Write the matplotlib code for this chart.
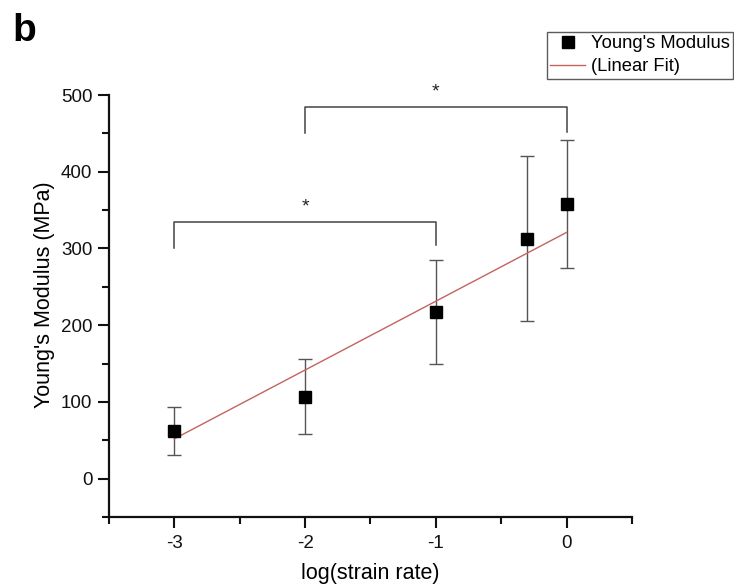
import numpy as np
import matplotlib
matplotlib.use("Agg")
import matplotlib.pyplot as plt
from matplotlib.ticker import MultipleLocator

plt.rcParams['font.family'] = ['Liberation Sans', 'DejaVu Sans']
plt.rcParams['axes.unicode_minus'] = False

# log10 of strain rate and measured modulus (mean, error)
log_rate = np.array([-3.0, -2.0, -1.0, np.log10(0.5), 0.0])
modulus = np.array([62, 107, 217, 313, 358])
modulus_err = np.array([31, 49, 68, 107, 83])

# significance brackets: (x_left, x_right, bar height, left foot, right foot)
brackets = [(-3.0, -1.0, 335, 300, 304),
            (-2.0, 0.0, 485, 450, 452)]

# weighted linear fit (instrumental weights 1/sigma^2)
slope, intercept = np.polyfit(log_rate, modulus, 1, w=1.0 / modulus_err)
fit_x = np.array([log_rate.min(), log_rate.max()])
fit_y = slope * fit_x + intercept

fig = plt.figure(figsize=(7.34, 5.88), dpi=100)
ax = fig.add_axes([0.1485, 0.1207, 0.7125, 0.7177])

ax.errorbar(log_rate, modulus, yerr=modulus_err, fmt='none', ecolor='#555555',
            elinewidth=1.0, capsize=5, capthick=1.0, zorder=2)
sq, = ax.plot(log_rate, modulus, 's', color='black', ms=8.5, zorder=3,
              label="Young's Modulus")
fl, = ax.plot(fit_x, fit_y, '-', color='#c4625f', lw=1.0, zorder=2.5,
              label='(Linear Fit)')

for x0, x1, h, f0, f1 in brackets:
    ax.plot([x0, x0, x1, x1], [f0, h, h, f1], color='#444444', lw=1.1,
            clip_on=False, zorder=1)
    ax.text((x0 + x1) / 2, h + 8, '*', ha='center', va='bottom',
            fontsize=14, color='#222222', clip_on=False)

ax.set_xlim(-3.5, 0.5)
ax.set_ylim(-50, 500)
ax.xaxis.set_minor_locator(MultipleLocator(0.5))
ax.yaxis.set_minor_locator(MultipleLocator(50))
ax.set_yticks([0, 100, 200, 300, 400, 500])
ax.set_xticks([-3, -2, -1, 0])

for s in ('top', 'right'):
    ax.spines[s].set_visible(False)
for s in ('left', 'bottom'):
    ax.spines[s].set_linewidth(1.6)
    ax.spines[s].set_color('#111111')

ax.tick_params(which='major', direction='out', length=8, width=1.5,
               labelsize=13.5, colors='#111111', pad=4)
ax.tick_params(which='minor', direction='out', length=5, width=1.5,
               colors='#111111')
ax.tick_params(axis='x', pad=5)

ax.set_xlabel('log(strain rate)', fontsize=15.5, labelpad=8)
ax.set_ylabel("Young's Modulus (MPa)", fontsize=15.5)
ax.yaxis.set_label_coords(-0.103, 0.526)

leg = fig.legend(handles=[sq, fl], loc='upper right',
                 bbox_to_anchor=(0.999, 0.946), fontsize=13.2,
                 frameon=True, fancybox=False, borderpad=0.2,
                 handlelength=1.9, handletextpad=0.3, labelspacing=0.3,
                 borderaxespad=0)
leg.get_frame().set_edgecolor('#333333')
leg.get_frame().set_linewidth(1.0)

fig.text(0.017, 0.93, 'b', fontsize=28, fontweight='bold', va='baseline')

fig.savefig('out.png', dpi=100)
